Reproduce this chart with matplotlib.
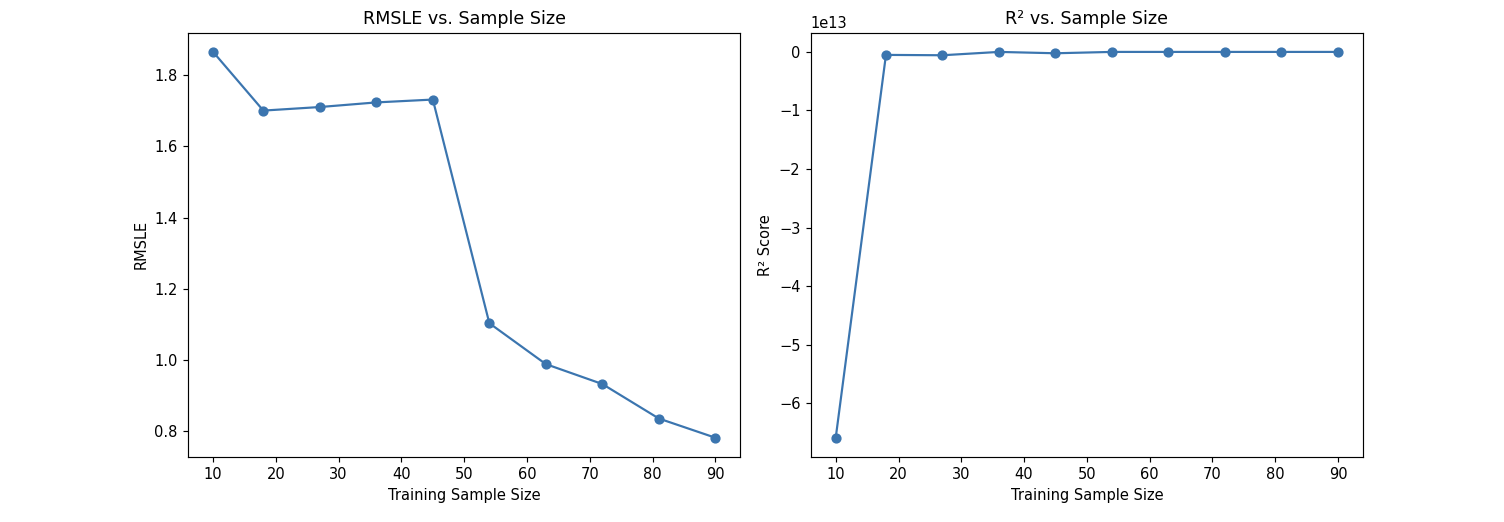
import matplotlib
matplotlib.use("Agg")
import matplotlib.pyplot as plt

# training sample sizes
sample_sizes = [10, 18, 27, 36, 45, 54, 63, 72, 81, 90]

# RMSLE per sample size
rmsle = [1.866, 1.701, 1.711, 1.724, 1.732, 1.103, 0.988, 0.932, 0.835, 0.781]

# R² per sample size (very large negative values)
r2 = [-6.587e13, -0.051e13, -0.057e13, 0.0, -0.023e13, 0.0, 0.0, 0.0, 0.0, 0.0]

line_color = '#3b75af'

# slightly higher dpi so text/markers come out a bit larger, like the original
DPI = 105
fig, (ax1, ax2) = plt.subplots(1, 2, figsize=(1504 / DPI, 522 / DPI), dpi=DPI)
fig.subplots_adjust(left=0.125, right=0.9063, top=0.9375, bottom=0.1245, wspace=0.127)

ax1.plot(sample_sizes, rmsle, marker='o', color=line_color)
ax1.set_title('RMSLE vs. Sample Size')
ax1.set_xlabel('Training Sample Size')
ax1.set_ylabel('RMSLE')

ax2.plot(sample_sizes, r2, marker='o', color=line_color)
ax2.set_title('R² vs. Sample Size')
ax2.set_xlabel('Training Sample Size')
ax2.set_ylabel('R² Score')

plt.savefig('out.png', dpi=DPI)
